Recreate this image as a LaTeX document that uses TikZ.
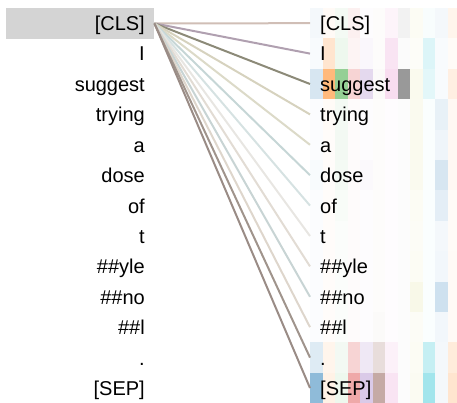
\documentclass[tikz,border=0pt]{standalone}
\usepackage{fontspec}
\setmainfont{Liberation Sans}
\definecolor{hc0}{HTML}{1F77B4}
\definecolor{hc1}{HTML}{FF7F0E}
\definecolor{hc2}{HTML}{2CA02C}
\definecolor{hc3}{HTML}{D62728}
\definecolor{hc4}{HTML}{9467BD}
\definecolor{hc5}{HTML}{8C564B}
\definecolor{hc6}{HTML}{E377C2}
\definecolor{hc7}{HTML}{7F7F7F}
\definecolor{hc8}{HTML}{BCBD22}
\definecolor{hc9}{HTML}{17BECF}
\definecolor{hc10}{HTML}{1F77B4}
\definecolor{hc11}{HTML}{FF7F0E}
\definecolor{boxgray}{RGB}{212,212,212}
\definecolor{lc0}{RGB}{208,190,182}
\definecolor{lc1}{RGB}{176,160,176}
\definecolor{lc2}{RGB}{140,138,120}
\definecolor{lc3}{RGB}{214,210,190}
\definecolor{lc4}{RGB}{220,218,200}
\definecolor{lc5}{RGB}{198,214,214}
\definecolor{lc6}{RGB}{214,226,226}
\definecolor{lc7}{RGB}{232,230,226}
\definecolor{lc8}{RGB}{226,220,212}
\definecolor{lc9}{RGB}{200,212,212}
\definecolor{lc10}{RGB}{222,214,204}
\definecolor{lc11}{RGB}{160,148,140}
\definecolor{lc12}{RGB}{154,140,134}
\begin{document}
\begin{tikzpicture}[x=1pt,y=-1pt,
  tok/.style={font=\fontsize{20}{24}\selectfont, inner sep=0pt, text=black},
  link/.style={line width=2pt},
  rowbox/.style={minimum width=147pt, minimum height=30.4pt, inner sep=0pt, anchor=west}]
\useasboundingbox (0,0) rectangle (457,403);
\def\rh{30.4}
% heatmap cells
\begin{scope}
\clip (0,0) rectangle (457,403);
\foreach \row [count=\i from 0] in {
  {.05,.04,.05,.07,.02,.02,.08,.10,.05,.03,.05,.08},
  {.03,.20,.08,.05,.05,.02,.20,.03,.03,.15,.03,.03},
  {.18,.55,.50,.20,.25,.03,.25,.80,.08,.12,.03,.12},
  {.02,.03,.05,.02,.02,.02,.02,.02,.07,.02,.10,.05},
  {.02,.02,.06,.02,.02,.02,.02,.02,.08,.02,.07,.05},
  {.03,.02,.05,.02,.04,.02,.02,.02,.07,.02,.18,.05},
  {.02,.02,.03,.02,.02,.02,.02,.02,.05,.02,.12,.03},
  {.02,.02,.02,.02,.02,.02,.02,.02,.04,.02,.05,.03},
  {.02,.02,.02,.02,.02,.02,.02,.02,.05,.02,.06,.04},
  {.02,.02,.02,.02,.02,.02,.02,.02,.10,.02,.22,.04},
  {.02,.02,.02,.02,.02,.03,.02,.02,.04,.02,.06,.04},
  {.15,.08,.06,.20,.15,.20,.10,.02,.05,.25,.05,.15},
  {.50,.10,.08,.40,.35,.50,.20,.02,.06,.40,.05,.20}} {
  \foreach \v [count=\j from 0] in \row {
    \pgfmathsetmacro\xl{310+12.5*\j}
    \pgfmathsetmacro\yt{8+\rh*\i}
    \fill[fill=hc\j, fill opacity=\v] (\xl,\yt) rectangle ++(12.5,\rh);
  }
}
\end{scope}
% left highlighted box
\node[fill=boxgray, minimum width=148pt, minimum height=30.4pt, inner sep=0pt, anchor=north west] (clsbox) at (6,8) {};
% row targets on the right
\foreach \i in {0,...,12} {
  \pgfmathsetmacro\yc{8+\rh*\i+15.2}
  \node[rowbox] (rw\i) at (310,\yc) {};
}
% connectors
\foreach \i in {0,...,12} {
  \draw[link, lc\i] (clsbox.east) -- (rw\i.west);
}
% tokens
\foreach \t [count=\i from 0] in {{[CLS]},I,suggest,trying,a,dose,of,t,{\#\#yle},{\#\#no},{\#\#l},.,{[SEP]}} {
  \pgfmathsetmacro\yb{8+\rh*\i+15.2+7.4}
  \node[tok, anchor=base east] (l\i) at (145,\yb) {\t};
  \node[tok, anchor=base west] (r\i) at (320,\yb) {\t};
}
\end{tikzpicture}
\end{document}
